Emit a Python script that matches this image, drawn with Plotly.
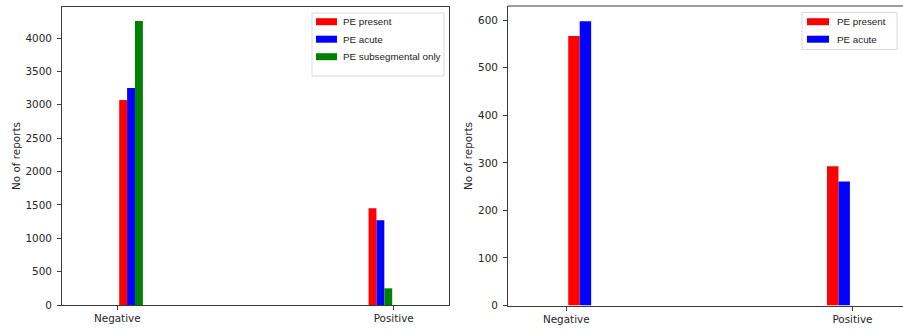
import plotly.graph_objects as go

# ---- data ----
categories = ["Negative", "Positive"]
cat_pos = [0, 1]

left_present = [3070, 1450]
left_acute = [3250, 1270]
left_subseg = [4255, 250]

right_present = [567, 293]
right_acute = [598, 261]

series_names = ["PE present", "PE acute", "PE subsegmental only"]
colors = ["#ff0000", "#0000ff", "#008000"]

W, H = 903, 332
def px(x):
    return x / W
def py(y):
    return 1 - y / H

fig = go.Figure()

# left subplot bars
lw = 0.0285
left_offsets = [[0.007, -0.091], [0.0355, -0.0625], [0.064, -0.034]]
for name, vals, col, off in zip(series_names, [left_present, left_acute, left_subseg], colors, left_offsets):
    fig.add_trace(go.Bar(x=cat_pos, y=vals, name=name, marker=dict(color=col, line=dict(width=0)),
                         width=lw, offset=off, xaxis="x", yaxis="y", showlegend=False))

# right subplot bars
rw = 0.04
right_offsets = [[0.007, -0.089], [0.047, -0.049]]
for name, vals, col, off in zip(series_names[:2], [right_present, right_acute], colors[:2], right_offsets):
    fig.add_trace(go.Bar(x=cat_pos, y=vals, name=name, marker=dict(color=col, line=dict(width=0)),
                         width=rw, offset=off, xaxis="x2", yaxis="y2", showlegend=False))

tickfont = dict(family="DejaVu Sans", size=10.4, color="#262626")
axcol = "#3a3a3a"
ydom = [py(305), py(7)]

fig.update_layout(
    width=W, height=H, margin=dict(l=0, r=0, t=0, b=0, autoexpand=False),
    paper_bgcolor="white", plot_bgcolor="white",
    barmode="overlay", showlegend=False,
    xaxis=dict(domain=[px(62), px(449)], range=[-0.2, 1.2], tickvals=cat_pos, ticktext=categories,
               showline=True, mirror=True, linecolor=axcol, linewidth=1, ticks="outside", ticklen=4,
               tickcolor=axcol, showgrid=False, zeroline=False, tickfont=tickfont, anchor="y",
               automargin=False),
    yaxis=dict(domain=ydom, range=[0, 4465], dtick=500, showline=True, mirror=True, linecolor=axcol,
               linewidth=1, ticks="outside", ticklen=4, tickcolor=axcol, showgrid=False, zeroline=False,
               tickfont=tickfont, anchor="x", automargin=False, ticklabelstandoff=3),
    xaxis2=dict(domain=[px(508), 1.0], range=[-0.2035, 1.1765], tickvals=cat_pos, ticktext=categories,
                showline=True, linecolor=axcol, linewidth=1, ticks="outside", ticklen=4,
                tickcolor=axcol, showgrid=False, zeroline=False, tickfont=tickfont, anchor="y2",
                automargin=False),
    yaxis2=dict(domain=[py(305.5), py(6)], range=[0, 630], dtick=100, showline=True, linecolor=axcol,
                linewidth=1, ticks="outside", ticklen=4, tickcolor=axcol, showgrid=False, zeroline=False,
                tickfont=tickfont, anchor="x2", automargin=False, ticklabelstandoff=3),
)

shapes = []
annotations = []
# top border of right subplot (right border is cut off by the image edge)
shapes.append(dict(type="line", xref="paper", yref="paper", x0=px(508), x1=1.0, y0=py(6), y1=py(6),
                   line=dict(color=axcol, width=1)))

# y-axis titles
for xc in [16, 468]:
    annotations.append(dict(text="No of reports", xref="paper", yref="paper", x=px(xc), y=py(156),
                            showarrow=False, textangle=-90, font=tickfont,
                            xanchor="center", yanchor="middle"))

legfont = dict(family="Liberation Sans, Arial", size=9.8, color="#222222")

def legend(box, patch_x, text_x, rows, names, cols):
    x0, y0, x1, y1 = box
    shapes.append(dict(type="rect", xref="paper", yref="paper", x0=px(x0), x1=px(x1), y0=py(y0), y1=py(y1),
                       line=dict(color="#d9d9d9", width=1), fillcolor="rgba(255,255,255,0.8)"))
    for ry, nm, c in zip(rows, names, cols):
        shapes.append(dict(type="rect", xref="paper", yref="paper", x0=px(patch_x[0]), x1=px(patch_x[1]),
                           y0=py(ry - 3.5), y1=py(ry + 3.5), line=dict(width=0), fillcolor=c))
        annotations.append(dict(text=nm, xref="paper", yref="paper", x=px(text_x), y=py(ry),
                                showarrow=False, xanchor="left", yanchor="middle", font=legfont))

legend((312, 13, 444, 76), (316, 337), 341, [21.7, 39.2, 56.7], series_names, colors)
legend((802, 12.5, 897, 49.5), (807, 829), 835, [21.7, 39.2], series_names[:2], colors[:2])

fig.update_layout(shapes=shapes, annotations=annotations)
fig.write_html("out.html")
